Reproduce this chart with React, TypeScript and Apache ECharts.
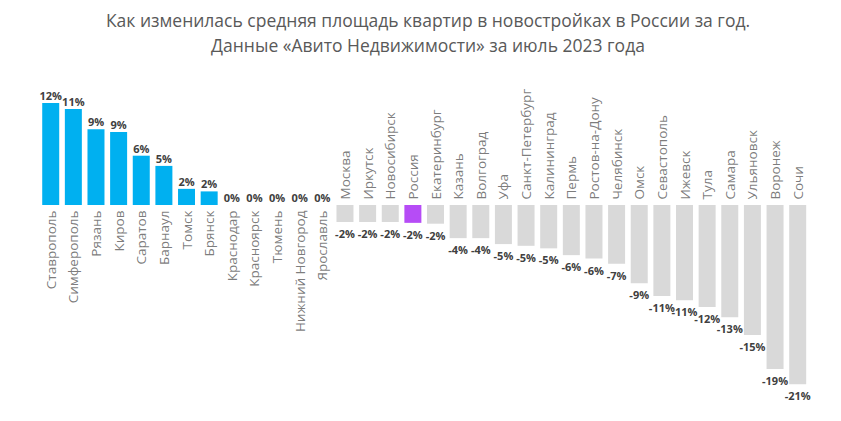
import React, { useEffect, useRef } from "react";
import * as echarts from "echarts";

const categories = [
  "Ставрополь", "Симферополь", "Рязань", "Киров", "Саратов", "Барнаул", "Томск", "Брянск",
  "Краснодар", "Красноярск", "Тюмень", "Нижний Новгород", "Ярославль",
  "Москва", "Иркутск", "Новосибирск", "Россия", "Екатеринбург", "Казань", "Волгоград",
  "Уфа", "Санкт-Петербург", "Калининград", "Пермь", "Ростов-на-Дону", "Челябинск",
  "Омск", "Севастополь", "Ижевск", "Тула", "Самара", "Ульяновск", "Воронеж", "Сочи",
];

const values = [
  12.0, 11.3, 8.9, 8.6, 5.8, 4.6, 1.9, 1.6,
  0, 0, 0, 0, 0,
  -2.0, -2.0, -2.0, -2.1, -2.2, -3.9, -3.9,
  -4.6, -4.8, -5.1, -5.9, -6.3, -6.9,
  -9.2, -10.7, -11.2, -12.0, -13.2, -15.3, -19.3, -21.1,
];

const labels = [
  "12%", "11%", "9%", "9%", "6%", "5%", "2%", "2%",
  "0%", "0%", "0%", "0%", "0%",
  "-2%", "-2%", "-2%", "-2%", "-2%", "-4%", "-4%",
  "-5%", "-5%", "-5%", "-6%", "-6%", "-7%",
  "-9%", "-11%", "-11%", "-12%", "-13%", "-15%", "-19%", "-21%",
];

const highlight = "Россия";

const titleText =
  "Как изменилась средняя площадь квартир в новостройках в России за год.\nДанные «Авито Недвижимости» за июль 2023 года";

export default function App() {
  const ref = useRef<HTMLDivElement>(null);
  useEffect(() => {
    if (!ref.current) return;
    const chart = echarts.init(ref.current, null, { renderer: "svg" });
    const barData = values.map((v, i) => ({
      value: v,
      itemStyle: {
        color: categories[i] === highlight ? "#B64CF6" : v > 0 ? "#00B0F0" : "#D9D9D9",
      },
      label: {
        position: v < 0 ? "bottom" : "top",
        distance: v < 0 ? 6 : 2,
      },
    }));
    const nameData = values.map((v, i) => ({
      value: [i, 0],
      label: v >= 0
        ? { position: "bottom", distance: 5, align: "right", verticalAlign: "middle" }
        : { position: "top", distance: 5, align: "left", verticalAlign: "middle" },
    }));
    chart.setOption({
      animation: false,
      graphic: [
        {
          type: "text",
          x: 428,
          y: 7,
          style: {
            text: titleText,
            textAlign: "center",
            font: '17.5px "Open Sans"',
            lineHeight: 25,
            fill: "#595959",
          },
        },
      ],
      grid: { left: 39.4, right: 32, top: 86, bottom: 12, containLabel: false },
      xAxis: {
        type: "category",
        data: categories,
        axisLine: { show: false },
        axisTick: { show: false },
        axisLabel: { show: false },
        splitLine: { show: false },
      },
      yAxis: {
        type: "value",
        min: -24,
        max: 14,
        show: false,
        splitLine: { show: false },
      },
      series: [
        {
          type: "bar",
          data: barData,
          barWidth: 17,
          label: {
            show: true,
            formatter: (p: any) => labels[p.dataIndex],
            fontFamily: "Open Sans",
            fontWeight: "bold",
            fontSize: 11,
            color: "#404040",
          },
        },
        {
          type: "scatter",
          data: nameData,
          symbolSize: 1,
          itemStyle: { color: "rgba(0,0,0,0)" },
          silent: true,
          label: {
            show: true,
            rotate: 90,
            formatter: (p: any) => categories[p.dataIndex],
            fontFamily: "Open Sans",
            fontSize: 13.5,
            color: "#595959",
          },
        },
      ],
    });
    return () => chart.dispose();
  }, []);
  return (
    <div
      ref={ref}
      style={{ position: "fixed", left: 0, top: 0, width: 841, height: 421, background: "#fff" }}
    />
  );
}
